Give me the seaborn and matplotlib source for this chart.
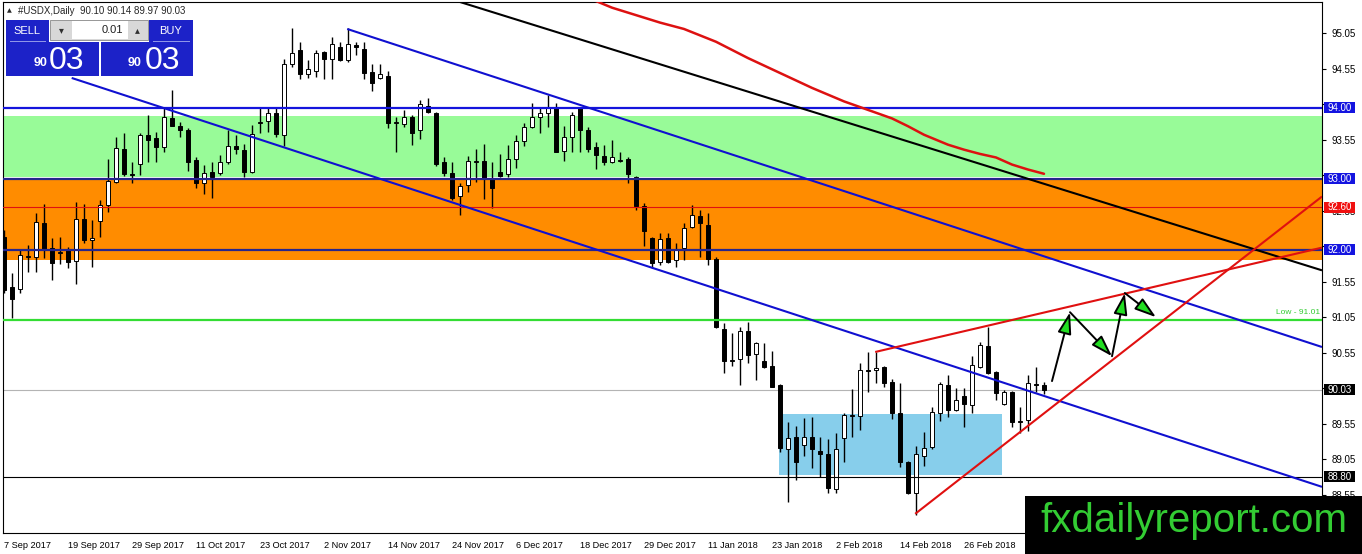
import numpy as np
import pandas as pd
import matplotlib
matplotlib.use('Agg')
import matplotlib.pyplot as plt
import seaborn as sns
from matplotlib.patches import Rectangle

# Daily USDX candles (bar 0 = 7 Sep 2017)
opens = [92.18, 91.48, 91.45, 91.90, 91.90, 92.38, 92.03, 91.95, 92.00, 91.84,
         92.44, 92.14, 92.41, 92.63, 92.96, 93.42, 93.07, 93.21, 93.61, 93.58,
         93.45, 93.86, 93.75, 93.69, 93.27, 92.94, 93.10, 93.08, 93.24, 93.46,
         93.41, 93.10, 93.78, 93.82, 93.92, 93.62, 94.61, 94.82, 94.47, 94.52,
         94.79, 94.69, 94.85, 94.68, 94.89, 94.83, 94.51, 94.42, 94.45, 93.79,
         93.77, 93.87, 93.68, 94.03, 93.93, 93.23, 93.08, 92.76, 92.91, 93.24,
         93.25, 93.00, 93.10, 93.07, 93.28, 93.53, 93.73, 93.87, 93.92, 94.01,
         93.39, 93.59, 94.00, 93.68, 93.45, 93.32, 93.23, 93.25, 93.28, 93.03,
         92.62, 92.17, 91.83, 92.17, 91.86, 92.03, 92.32, 92.48, 92.35, 91.87,
         90.89, 90.43, 90.46, 90.86, 90.53, 90.43, 90.36, 90.10, 89.19, 89.36,
         89.25, 89.36, 89.17, 89.12, 88.63, 89.35, 89.66, 89.66, 90.30, 90.31,
         90.35, 90.14, 89.70, 89.01, 88.57, 89.10, 89.22, 89.70, 90.10, 89.74,
         89.94, 89.81, 90.35, 90.65, 90.28, 89.83, 90.00, 89.58, 89.60, 90.11,
         90.10]
highs = [92.28, 91.67, 92.00, 92.07, 92.52, 92.65, 92.17, 92.18, 92.04, 92.67,
         92.65, 92.42, 92.70, 93.28, 93.59, 93.65, 93.24, 93.65, 93.90, 93.66,
         94.00, 94.25, 93.80, 93.72, 93.30, 93.20, 93.23, 93.34, 93.69, 93.62,
         93.49, 93.76, 93.99, 93.99, 93.99, 94.69, 95.13, 94.92, 94.68, 94.82,
         94.80, 95.00, 94.93, 95.13, 94.93, 94.92, 94.61, 94.62, 94.52, 93.87,
         93.97, 93.90, 94.11, 94.14, 93.94, 93.30, 93.23, 92.94, 93.32, 93.42,
         93.49, 93.24, 93.35, 93.48, 93.62, 93.79, 94.07, 94.01, 94.18, 94.07,
         93.75, 93.94, 94.01, 93.73, 93.52, 93.48, 93.55, 93.37, 93.30, 93.04,
         92.66, 92.18, 92.24, 92.24, 92.10, 92.38, 92.63, 92.56, 92.52, 91.90,
         90.97, 90.83, 90.91, 90.98, 90.70, 90.69, 90.57, 90.11, 89.57, 89.52,
         89.63, 89.64, 89.36, 89.34, 89.42, 89.70, 90.04, 90.41, 90.56, 90.56,
         90.36, 90.18, 90.12, 89.02, 89.24, 89.43, 89.79, 90.14, 90.24, 90.05,
         90.05, 90.50, 90.70, 90.91, 90.29, 90.03, 90.01, 89.79, 90.24, 90.35,
         90.14]
lows = [91.39, 91.04, 91.39, 91.69, 91.69, 91.89, 91.58, 91.80, 91.75, 91.52,
        92.10, 91.76, 92.18, 92.53, 92.94, 93.04, 92.94, 93.06, 93.24, 93.24,
        93.38, 93.74, 93.59, 93.11, 92.87, 92.79, 92.73, 93.06, 93.21, 93.35,
        93.03, 93.08, 93.65, 93.66, 93.59, 93.46, 94.58, 94.41, 94.42, 94.44,
        94.40, 94.40, 94.66, 94.65, 94.75, 94.40, 94.23, 94.40, 93.72, 93.37,
        93.73, 93.48, 93.56, 93.93, 93.18, 93.04, 92.70, 92.49, 92.82, 92.96,
        92.72, 92.59, 93.03, 93.03, 93.15, 93.46, 93.72, 93.65, 93.73, 93.37,
        93.25, 93.38, 93.37, 93.38, 93.14, 93.20, 93.22, 93.23, 92.94, 92.56,
        92.05, 91.75, 91.79, 91.82, 91.76, 91.86, 92.31, 91.90, 91.79, 90.90,
        90.26, 90.36, 90.10, 90.41, 90.17, 90.34, 90.06, 89.15, 88.45, 88.76,
        89.10, 88.93, 88.80, 88.57, 88.57, 89.01, 89.36, 89.46, 90.00, 90.12,
        90.07, 89.62, 88.94, 88.56, 88.26, 88.95, 89.19, 89.59, 89.65, 89.73,
        89.50, 89.70, 90.34, 90.25, 89.89, 89.81, 89.50, 89.42, 89.45, 90.00,
        89.97]
closes = [91.44, 91.31, 91.93, 91.91, 92.39, 92.01, 91.82, 91.97, 91.83, 92.44,
          92.14, 92.16, 92.63, 92.97, 93.44, 93.07, 93.05, 93.62, 93.55, 93.45,
          93.87, 93.75, 93.69, 93.24, 92.94, 93.08, 93.03, 93.24, 93.46, 93.42,
          93.10, 93.63, 93.80, 93.92, 93.63, 94.62, 94.77, 94.47, 94.54, 94.77,
          94.69, 94.90, 94.68, 94.90, 94.85, 94.49, 94.35, 94.48, 93.79, 93.80,
          93.87, 93.65, 94.06, 93.94, 93.21, 93.08, 92.73, 92.90, 93.25, 93.25,
          93.00, 92.87, 93.04, 93.28, 93.53, 93.73, 93.87, 93.93, 94.01, 93.38,
          93.59, 93.90, 93.69, 93.42, 93.34, 93.24, 93.30, 93.26, 93.07, 92.62,
          92.27, 91.82, 92.15, 91.83, 91.99, 92.31, 92.49, 92.37, 91.87, 90.91,
          90.43, 90.44, 90.86, 90.52, 90.69, 90.35, 90.07, 89.21, 89.35, 89.01,
          89.36, 89.19, 89.12, 88.64, 89.19, 89.67, 89.67, 90.31, 90.29, 90.34,
          90.12, 89.70, 89.01, 88.57, 89.12, 89.21, 89.72, 90.11, 89.74, 89.89,
          89.83, 90.38, 90.66, 90.27, 89.98, 90.00, 89.57, 89.59, 90.12, 90.10,
          90.03]

# date labels, one every 8 bars
tick_labels = ['7 Sep 2017', '19 Sep 2017', '29 Sep 2017', '11 Oct 2017', '23 Oct 2017',
               '2 Nov 2017', '14 Nov 2017', '24 Nov 2017', '6 Dec 2017', '18 Dec 2017',
               '29 Dec 2017', '11 Jan 2018', '23 Jan 2018', '2 Feb 2018', '14 Feb 2018',
               '26 Feb 2018']
price_ticks = [95.05, 94.55, 94.05, 93.55, 93.05, 92.55, 92.05, 91.55, 91.05,
               90.55, 90.05, 89.55, 89.05, 88.55]
# these tick labels sit under the coloured price tags
covered_ticks = [94.05, 93.05, 92.05, 90.05]

# moving average (red curve)
ma_bars = [73, 76, 78, 80, 82, 85, 89, 93, 97, 101, 105, 107, 109, 111, 113,
           115, 118, 120, 122, 124, 126, 128, 130]
ma_values = [95.55, 95.41, 95.34, 95.27, 95.20, 95.11, 94.93, 94.70, 94.49, 94.28,
             94.09, 94.01, 93.93, 93.85, 93.74, 93.62, 93.48, 93.41, 93.35, 93.30,
             93.20, 93.13, 93.07]

# zones and levels
green_zone = (93.03, 93.89)
orange_zone = (91.86, 93.00)
box_zone = (96.9, 124.75, 88.82, 89.69)   # bar from, bar to, low, high
levels = {'94.00': 94.00, '93.00': 93.00, '92.60': 92.60, '92.00': 92.00,
          '91.01': 91.01, '90.03': 90.03, '88.80': 88.80}

# trendlines (bar, price) start -> end
black_trend = [(57.0, 95.49), (164.75, 91.71)]
upper_channel = [(42.9, 95.11), (164.75, 90.63)]
lower_channel = [(8.46, 94.42), (164.75, 88.66)]
red_trend_flat = [(108.9, 90.56), (164.75, 92.03)]
red_trend_steep = [(113.9, 88.28), (164.75, 92.75)]

# projected zigzag path
arrow_bars = [131.0, 133.25, 138.5, 140.1, 144.0]
arrow_prices = [90.15, 91.12, 90.50, 91.39, 91.05]

W, H = 1362, 554


def fx(x):
    return x / W


def fy(y):
    return 1 - y / H


sns.set_theme(style='white')
plt.rcParams['font.family'] = ['Liberation Sans', 'DejaVu Sans']

fig = plt.figure(figsize=(W / 100, H / 100), dpi=100)
ax = fig.add_axes([fx(2.5), fy(533), (1322 - 2.5) / W, (533 - 2) / H])
ax.set_xlim(-0.19, 164.75)
ax.set_ylim(88.01, 95.49)

# background zones
ax.axhspan(*green_zone, color='#98fb98', lw=0, zorder=0.5)
ax.axhspan(*orange_zone, color='#ff8c00', lw=0, zorder=0.5)
bx0, bx1, by0, by1 = box_zone
ax.add_patch(Rectangle((bx0, by0), bx1 - bx0, by1 - by0, color='#87ceeb', lw=0, zorder=0.6))

# candles
candles = pd.DataFrame({'open': opens, 'high': highs, 'low': lows, 'close': closes})
candles['bar'] = np.arange(len(candles))
up = candles['close'] >= candles['open']
ax.vlines(candles['bar'], candles['low'], candles['high'], color='black', lw=1, zorder=2)
body = (candles['close'] - candles['open']).abs().clip(lower=0.006)
bottom = candles[['open', 'close']].min(axis=1)
ax.bar(candles['bar'], body, bottom=bottom, width=0.62,
       color=['white' if u else 'black' for u in up], edgecolor='black', lw=0.7, zorder=2.5)

# horizontal levels
ax.axhline(levels['94.00'], color='#1414dc', lw=1.6, zorder=3)
ax.axhline(levels['93.00'], color='#26268c', lw=1.6, zorder=3)
ax.axhline(levels['92.00'], color='#26268c', lw=1.6, zorder=3)
ax.axhline(levels['92.60'], color='#e01010', lw=0.8, zorder=3)
ax.axhline(levels['91.01'], color='#33dd33', lw=1.6, zorder=3)
ax.axhline(levels['90.03'], color='#b4b4b4', lw=0.8, zorder=1)
ax.axhline(levels['88.80'], color='black', lw=0.8, zorder=3)

# trendlines
for line, col in [(black_trend, '#000000'), (upper_channel, '#1010d0'),
                  (lower_channel, '#1010d0'), (red_trend_flat, '#e01010'),
                  (red_trend_steep, '#e01010')]:
    (x0, y0), (x1, y1) = line
    ax.plot([x0, x1], [y0, y1], color=col, lw=1.5, zorder=4, solid_capstyle='butt')

# moving average
sns.lineplot(x=ma_bars, y=ma_values, ax=ax, color='#dd1111', lw=1.8, zorder=4, sort=False)

# zigzag arrows
for i in range(len(arrow_bars) - 1):
    ax.annotate('', xy=(arrow_bars[i + 1], arrow_prices[i + 1]),
                xytext=(arrow_bars[i], arrow_prices[i]),
                arrowprops=dict(arrowstyle='-|>,head_length=1.1,head_width=0.35',
                                fc='#22dd22', ec='black', lw=1.4,
                                shrinkA=0, shrinkB=0), zorder=5)

ax.text(164.5, 91.07, 'Low - 91.01', ha='right', va='bottom', fontsize=6,
        color='#33cc33', zorder=5)

# axes styling
for sp in ax.spines.values():
    sp.set_color('black')
    sp.set_linewidth(0.8)
ax.yaxis.tick_right()
ax.set_yticks(price_ticks)
ax.set_yticklabels(['' if p in covered_ticks else f'{p:.2f}' for p in price_ticks],
                   fontsize=7)
ax.set_xticks(range(0, 8 * len(tick_labels), 8))
ax.set_xticklabels(tick_labels, fontsize=6.6, ha='left')
ax.tick_params(axis='both', which='both', direction='out', length=3, width=0.8,
               color='black', pad=2, labelcolor='black')
ax.tick_params(axis='x', pad=3)
ax.tick_params(axis='y', right=True, left=False, pad=4)

# coloured price tags on the right axis
tag_w = 31 / 1319.5
tag_h = 11 * (95.49 - 88.01) / 531
tags = [('94.00', '#1414e0'), ('93.00', '#1414e0'), ('92.60', '#f01010'),
        ('92.00', '#1414e0'), ('90.03', 'black'), ('88.80', 'black')]
ytr = ax.get_yaxis_transform()
for lbl, col in tags:
    ax.add_patch(Rectangle((1.0015, levels[lbl] - tag_h / 2), tag_w, tag_h,
                           transform=ytr, fc=col, ec='none', clip_on=False, zorder=6))
    ax.text(1.0015 + tag_w / 2, levels[lbl], lbl, transform=ytr,
            ha='center', va='center', fontsize=7, color='white', zorder=7)

# header text
fig.text(fx(7), fy(11), '\u25b2', fontsize=4.5, va='center', ha='left',
         family='DejaVu Sans')
fig.text(fx(18), fy(11), '#USDX,Daily  90.10 90.14 89.97 90.03', fontsize=7,
         va='center', ha='left')


def box(x0, y0, x1, y1, col, ec='none', z=5):
    fig.add_artist(Rectangle((fx(x0), fy(y1)), (x1 - x0) / W, (y1 - y0) / H,
                             transform=fig.transFigure, fc=col, ec=ec, lw=0.6, zorder=z))


# one-click trading panel
blue = '#1c22c8'
box(6, 20, 49, 42, blue)
box(149, 20, 193, 42, blue)
box(6, 42, 99, 76, blue)
box(101, 42, 193, 76, blue)
box(50, 20, 148, 40, '#d8d8d8', ec='#8a8a8a')
box(72, 21, 128, 39, 'white')
box(10, 41, 46, 42, '#8f95e8', z=6)
box(153, 41, 190, 42, '#8f95e8', z=6)
fig.text(fx(27), fy(31), 'SELL', color='white', fontsize=8, ha='center', va='center', zorder=6)
fig.text(fx(171), fy(31), 'BUY', color='white', fontsize=8, ha='center', va='center', zorder=6)
fig.text(fx(123), fy(30), '0.01', color='#202020', fontsize=8, ha='right', va='center', zorder=6)
fig.text(fx(61), fy(30), '\u25be', color='#303030', fontsize=7, ha='center', va='center',
         zorder=6, family='DejaVu Sans')
fig.text(fx(137), fy(30), '\u25b4', color='#303030', fontsize=7, ha='center', va='center',
         zorder=6, family='DejaVu Sans')
for xs, xb in [(41, 67), (135, 162)]:
    fig.text(fx(xs), fy(66), '90', color='white', fontsize=9, fontweight='bold',
             ha='center', va='baseline', zorder=6)
    fig.text(fx(xb), fy(69), '03', color='white', fontsize=23,
             ha='center', va='baseline', zorder=6)

# watermark box
box(1025, 496, 1362, 554, 'black', z=7)
fig.text(fx(1194), fy(521), 'fxdailyreport.com', color='#33cc33', fontsize=29,
         ha='center', va='center', zorder=8)

fig.savefig('out.png', dpi=100)
